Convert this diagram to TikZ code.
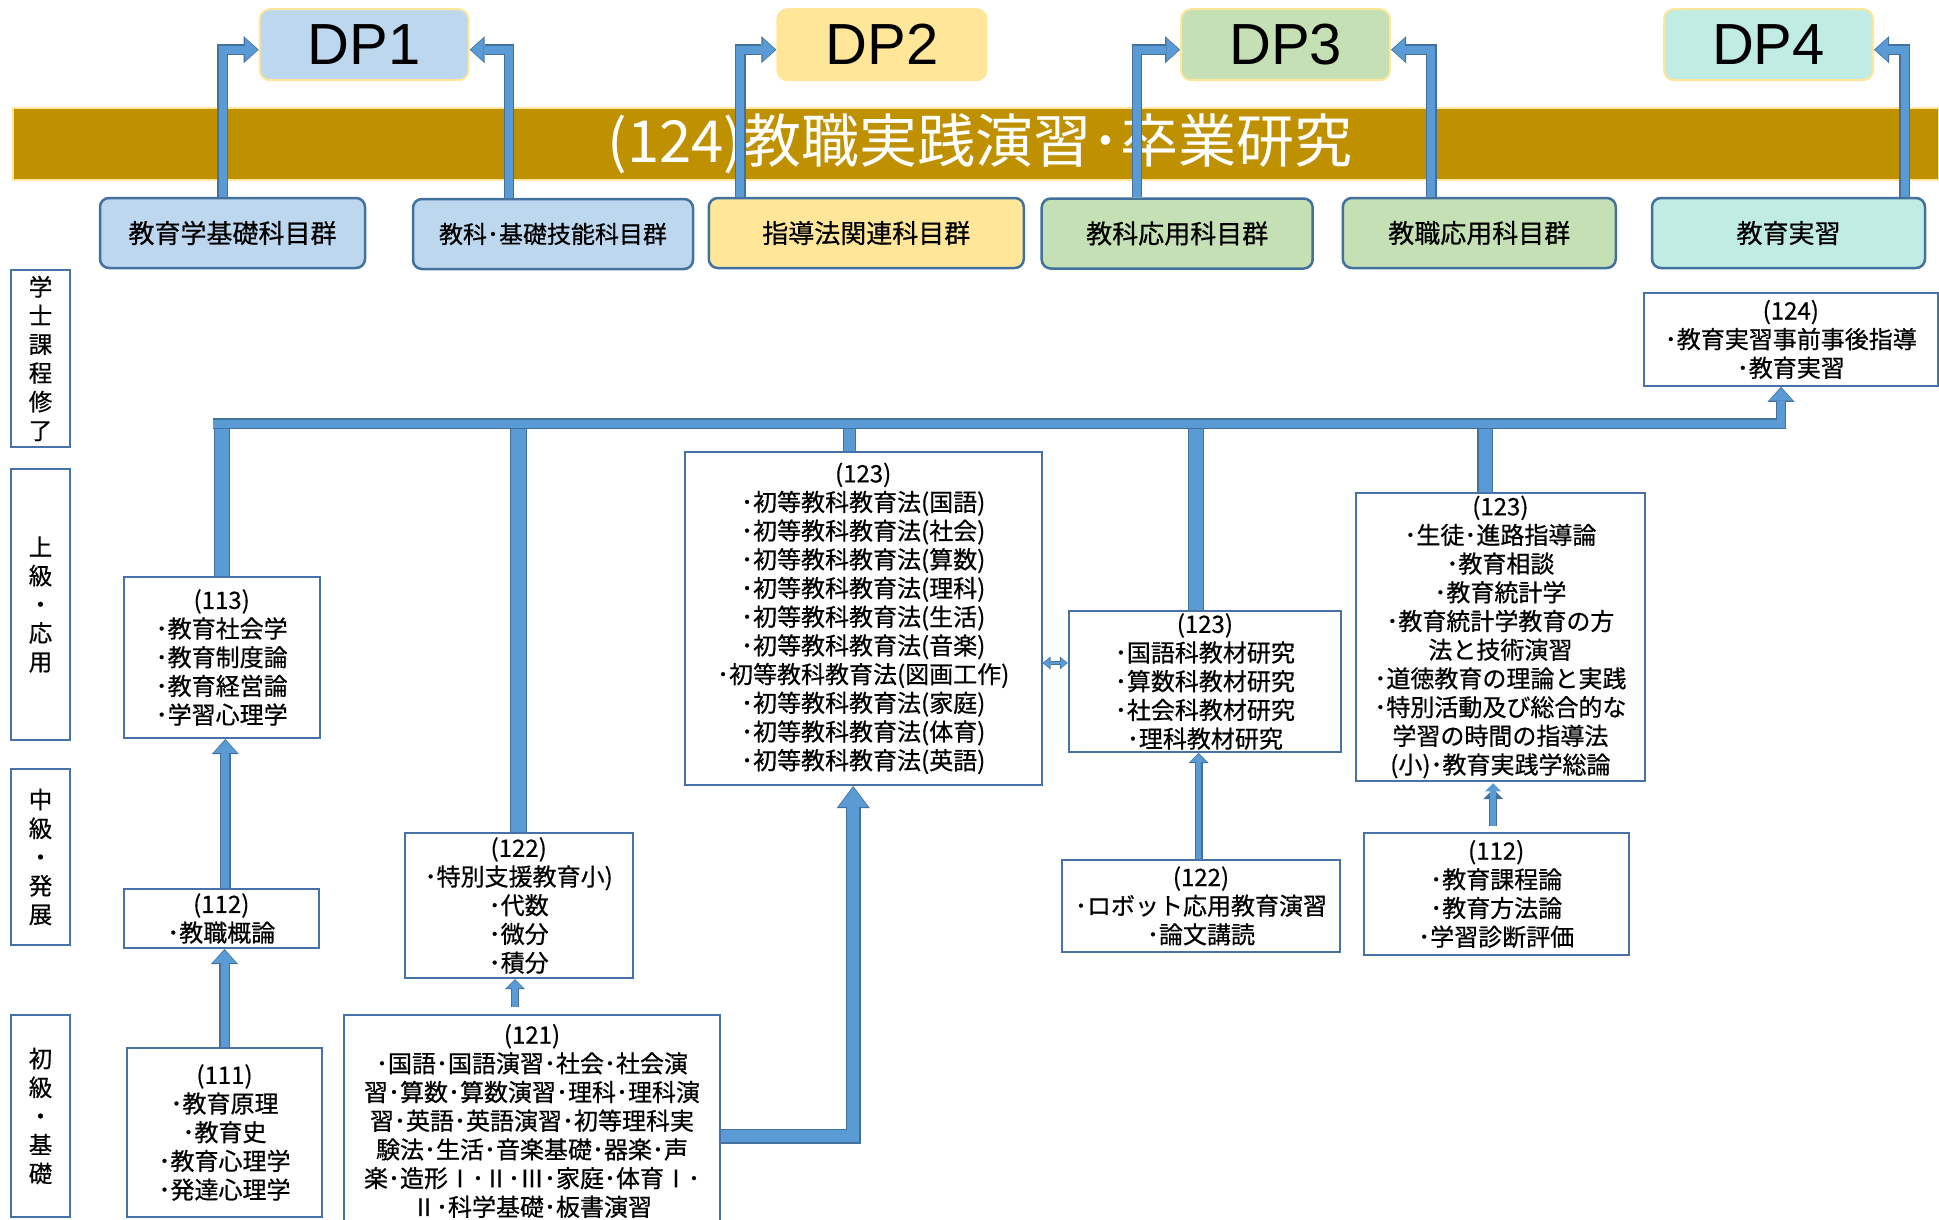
\documentclass[tikz,border=0pt]{standalone}
\usepackage{fontspec}
\setmainfont{Noto Sans CJK JP}
\newfontfamily\jpfont{Noto Sans CJK JP}[FakeBold=0.6]
\newfontfamily\dpfont{Liberation Sans}
\usepackage{tikz}
\usetikzlibrary{arrows.meta}

\definecolor{dpblue}{HTML}{BDD7EE}
\definecolor{dpyellow}{HTML}{FFE699}
\definecolor{dpgreen}{HTML}{C5E0B4}
\definecolor{dpmint}{HTML}{C0ECE3}
\definecolor{gold}{HTML}{BF9000}
\definecolor{barfill}{HTML}{5B9BD5}
\definecolor{barline}{HTML}{41719C}
\definecolor{boxline}{HTML}{4672A8}

\tikzset{
  dp/.style={draw=dpyellow, line width=2pt, rounded corners=10pt, minimum width=209pt, minimum height=71pt, inner sep=0pt, font=\dpfont\fontsize{58}{60}\selectfont},
  banner/.style={draw=dpyellow, line width=2pt, fill=gold, text=white, minimum width=1926pt, minimum height=72pt, inner sep=0pt, font=\fontsize{58}{60}\selectfont},
  grp/.style={draw=barline, line width=2.5pt, rounded corners=9pt, minimum height=70pt, inner sep=0pt, font=\jpfont\fontsize{26}{28}\selectfont},
  level/.style={draw=boxline, line width=2pt, fill=white, minimum width=59pt, inner sep=0pt, align=center, font=\jpfont\fontsize{23.5}{28.7}\selectfont},
  course/.style={draw=boxline, line width=2pt, fill=white, inner sep=0pt, align=center, font=\jpfont\fontsize{24}{28.7}\selectfont},
  pipe/.style={draw=barline, line width=#1, postaction={draw=barfill, line width=#1-2.4pt}},
  uparrow/.style={draw=barline, line width=10.5pt, -{Triangle[width=27pt,length=15pt,line width=0pt]},
    postaction={draw=barfill, line width=8pt, -{Triangle[width=23pt,length=12.5pt,line width=0pt]}, shorten >=1.3pt}},
  bigarrow/.style={draw=barline, line width=15pt, -{Triangle[width=33pt,length=22pt,line width=0pt]},
    postaction={draw=barfill, line width=12.5pt, -{Triangle[width=29pt,length=19.5pt,line width=0pt]}, shorten >=1.3pt}},
  thinarrow/.style={draw=barline, line width=8pt, -{Triangle[width=20pt,length=10pt,line width=0pt]},
    postaction={draw=barfill, line width=5.6pt, -{Triangle[width=16pt,length=8pt,line width=0pt]}, shorten >=1.2pt}},
  dblarrow/.style={draw=barline, line width=4.5pt, {Triangle[width=13pt,length=8pt,line width=0pt]}-{Triangle[width=13pt,length=8pt,line width=0pt]},
    postaction={draw=barfill, line width=2.5pt, {Triangle[width=10pt,length=6pt,line width=0pt]}-{Triangle[width=10pt,length=6pt,line width=0pt]}, shorten >=1pt, shorten <=1pt}},
}

\begin{document}
\begin{tikzpicture}[x=1pt,y=-1pt]
  \useasboundingbox (0,0) rectangle (1939,1219);
  % DP
  \node[dp, fill=dpblue] (dp1) at (364.2,44.7) {DP1};
  \node[dp, fill=dpyellow] (dp2) at (881.9,44.7) {DP2};
  \node[dp, fill=dpgreen] (dp3) at (1285.6,44.7) {DP3};
  \node[dp, fill=dpmint] (dp4) at (1768.5,44.7) {DP4};
  \node[banner] (bar) at (976,144) {\hspace*{8pt}(124)教職実践演習･卒業研究};
  % 科目群
  \node[grp, fill=dpblue, minimum width=265pt] (g1) at (232.5,233) {教育学基礎科目群};
  \node[grp, fill=dpblue, minimum width=280pt, font=\jpfont\fontsize{24}{28}\selectfont] (g2) at (553,234) {教科･基礎技能科目群};
  \node[grp, fill=dpyellow, minimum width=315pt] (g3) at (866.3,233) {指導法関連科目群};
  \node[grp, fill=dpgreen, minimum width=271pt] (g4) at (1177.2,233.5) {教科応用科目群};
  \node[grp, fill=dpgreen, minimum width=273pt] (g5) at (1479.3,233) {教職応用科目群};
  \node[grp, fill=dpmint, minimum width=273pt] (g6) at (1788.5,233) {教育実習};
  \draw[uparrow] ([xshift=-10pt]g1.north) |- ([yshift=-5pt]dp1.west);
  \draw[uparrow] ([xshift=-44pt]g2.north) |- ([yshift=-5pt]dp1.east);
  \draw[uparrow] ([xshift=-126pt]g3.north) |- ([yshift=-5pt]dp2.west);
  \draw[uparrow] ([xshift=-40pt]g4.north) |- ([yshift=-5pt]dp3.west);
  \draw[uparrow] ([xshift=-48pt]g5.north) |- ([yshift=-5pt]dp3.east);
  \draw[uparrow] ([xshift=116pt]g6.north) |- ([yshift=-5pt]dp4.east);
  % 段階
  \node[level, minimum height=177pt] (lv1) at (40.5,358.5) {学\\士\\課\\程\\修\\了};
  \node[level, minimum height=271pt] (lv2) at (40.5,604.5) {上\\級\\・\\応\\用};
  \node[level, minimum height=176pt] (lv3) at (40.5,857) {中\\級\\・\\発\\展};
  \node[level, minimum height=202pt] (lv4) at (40.5,1116) {初\\級\\・\\基\\礎};
  % 授業科目
  \node[course, minimum width=294.5pt, minimum height=92.7pt] (c124) at (1790.8,339.4) {(124)\\･教育実習事前事後指導\\･教育実習};
  \node[course, minimum width=195.9pt, minimum height=161pt] (c113) at (221.7,657.5) {(113)\\･教育社会学\\･教育制度論\\･教育経営論\\･学習心理学};
  \node[course, minimum width=195.4pt, minimum height=59pt] (c112a) at (221.3,918.5) {(112)\\･教職概論};
  \node[course, minimum width=195pt, minimum height=169pt] (c111) at (224.5,1132.5) {(111)\\･教育原理\\･教育史\\･教育心理学\\･発達心理学};
  \node[course, minimum width=227.9pt, minimum height=145pt] (c122a) at (518.7,905.5) {(122)\\･特別支援教育小)\\･代数\\･微分\\･積分};
  \node[course, minimum width=376pt, minimum height=212pt] (c121) at (532,1121) {(121)\\･国語･国語演習･社会･社会演\\習･算数･算数演習･理科･理科演\\習･英語･英語演習･初等理科実\\験法･生活･音楽基礎･器楽･声\\楽･造形Ⅰ･Ⅱ･Ⅲ･家庭･体育Ⅰ･\\Ⅱ･科学基礎･板書演習};
  \node[course, minimum width=356.7pt, minimum height=333.2pt] (c123a) at (863.2,618.4) {(123)\\･初等教科教育法(国語)\\･初等教科教育法(社会)\\･初等教科教育法(算数)\\･初等教科教育法(理科)\\･初等教科教育法(生活)\\･初等教科教育法(音楽)\\･初等教科教育法(図画工作)\\･初等教科教育法(家庭)\\･初等教科教育法(体育)\\･初等教科教育法(英語)};
  \node[course, minimum width=272.3pt, minimum height=141pt] (c123b) at (1204.9,681.5) {(123)\\･国語科教材研究\\･算数科教材研究\\･社会科教材研究\\･理科教材研究};
  \node[course, minimum width=278pt, minimum height=91.7pt] (c122b) at (1201,905.9) {(122)\\･ロボット応用教育演習\\･論文講読};
  \node[course, minimum width=289.2pt, minimum height=288.1pt] (c123c) at (1500.4,637) {(123)\\･生徒･進路指導論\\･教育相談\\･教育統計学\\･教育統計学教育の方\\法と技術演習\\･道徳教育の理論と実践\\･特別活動及び総合的な\\学習の時間の指導法\\(小)･教育実践学総論};
  \node[course, minimum width=264.7pt, minimum height=122pt] (c112b) at (1496.2,894) {(112)\\･教育課程論\\･教育方法論\\･学習診断評価};
  % 接続
  \coordinate (busL) at (213,423.5);
  \coordinate (busR) at (1781,423.5);
  \draw[pipe=16pt] (c113.north) -- (c113.north |- busL);
  \draw[pipe=17pt] (c122a.north) -- (c122a.north |- busL);
  \draw[pipe=13pt] ([xshift=-13.5pt]c123a.north) -- ([xshift=-13.5pt]c123a.north |- busL);
  \draw[pipe=16.5pt] ([xshift=-9pt]c123b.north) -- ([xshift=-9pt]c123b.north |- busL);
  \draw[pipe=16pt] ([xshift=-15pt]c123c.north) -- ([xshift=-15pt]c123c.north |- busL);
  \draw[uparrow] (busL) -- (busR) -- (busR |- c124.south);
  \draw[uparrow] ([xshift=4pt]c112a.north) -- ([xshift=4pt]c112a.north |- c113.south);
  \draw[uparrow] (c111.north) -- (c111.north |- c112a.south);
  \draw[thinarrow, shorten <=7pt] ([xshift=-17pt]c121.north) -- ([xshift=-17pt]c121.north |- c122a.south);
  \draw[bigarrow] ([yshift=-15pt]c121.east) -| ([xshift=-10pt]c123a.south);
  \draw[thinarrow] ([xshift=-2.5pt]c122b.north) -- ([xshift=-2.5pt]c122b.north |- c123b.south);
  \draw[thinarrow, shorten <=6pt, shorten >=7pt] ([xshift=-3pt]c112b.north) -- ([xshift=-3pt]c112b.north |- c123c.south);
  \draw[dblarrow] ([yshift=-44.6pt]c123a.east) -- ([yshift=18.5pt]c123b.west);
\end{tikzpicture}
\end{document}
